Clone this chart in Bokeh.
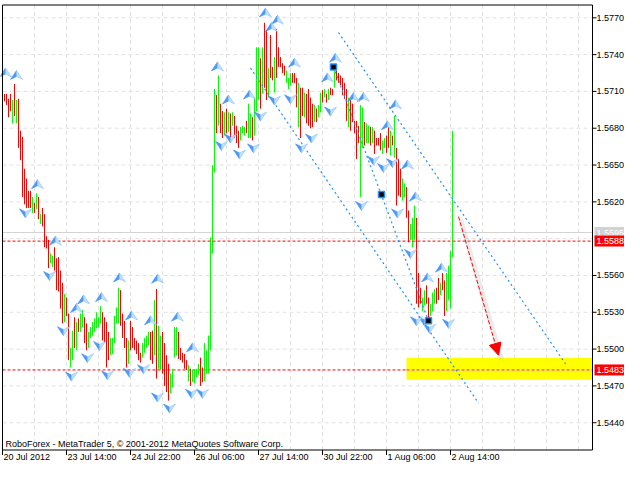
from bokeh.plotting import figure
from bokeh.models import Range1d, Arrow, NormalHead
from bokeh.core.properties import value
from bokeh.embed import file_html
from bokeh.resources import INLINE

# ---------------- data (H1 bars) ----------------
bar_high = [
    1.5708, 1.5708, 1.5704, 1.5708, 1.5703, 1.5716, 1.5703, 1.5704, 1.5678, 1.5673, 1.5647, 1.5639, 1.5629, 1.5629, 1.5624, 1.5619,
    1.5627, 1.5624, 1.5610, 1.5615, 1.5610, 1.5592, 1.5589, 1.5578, 1.5576, 1.5583, 1.5574, 1.5575, 1.5564, 1.5554, 1.5545, 1.5542,
    1.5529, 1.5501, 1.5515, 1.5526, 1.5522, 1.5525, 1.5529, 1.5532, 1.5526, 1.5521, 1.5514, 1.5518, 1.5522, 1.5525, 1.5530, 1.5526,
    1.5535, 1.5530, 1.5526, 1.5522, 1.5514, 1.5509, 1.5509, 1.5527, 1.5534, 1.5550, 1.5548, 1.5529, 1.5523, 1.5509, 1.5507, 1.5523,
    1.5518, 1.5509, 1.5507, 1.5505, 1.5497, 1.5505, 1.5509, 1.5511, 1.5514, 1.5514, 1.5515, 1.5540, 1.5549, 1.5519, 1.5511, 1.5514,
    1.5505, 1.5495, 1.5488, 1.5480, 1.5484, 1.5518, 1.5518, 1.5514, 1.5501, 1.5497, 1.5496, 1.5491, 1.5487, 1.5484, 1.5483, 1.5483,
    1.5484, 1.5488, 1.5493, 1.5485, 1.5505, 1.5499, 1.5511, 1.5591, 1.5650, 1.5712, 1.5707, 1.5723, 1.5700, 1.5694, 1.5693, 1.5696,
    1.5693, 1.5692, 1.5693, 1.5690, 1.5682, 1.5678, 1.5681, 1.5682, 1.5681, 1.5686, 1.5700, 1.5692, 1.5689, 1.5705, 1.5746, 1.5746,
    1.5737, 1.5746, 1.5766, 1.5760, 1.5729, 1.5756, 1.5730, 1.5738, 1.5761, 1.5746, 1.5738, 1.5733, 1.5731, 1.5727, 1.5721, 1.5725,
    1.5725, 1.5725, 1.5721, 1.5717, 1.5713, 1.5713, 1.5709, 1.5708, 1.5712, 1.5705, 1.5700, 1.5699, 1.5696, 1.5699, 1.5709, 1.5711,
    1.5712, 1.5708, 1.5712, 1.5713, 1.5712, 1.5727, 1.5727, 1.5725, 1.5723, 1.5721, 1.5717, 1.5712, 1.5705, 1.5703, 1.5700, 1.5686,
    1.5686, 1.5682, 1.5699, 1.5697, 1.5685, 1.5684, 1.5682, 1.5681, 1.5681, 1.5678, 1.5672, 1.5672, 1.5676, 1.5670, 1.5672, 1.5674,
    1.5684, 1.5678, 1.5674, 1.5690, 1.5664, 1.5655, 1.5647, 1.5639, 1.5635, 1.5632, 1.5613, 1.5602, 1.5607, 1.5617, 1.5607, 1.5562,
    1.5550, 1.5542, 1.5548, 1.5552, 1.5542, 1.5537, 1.5546, 1.5549, 1.5550, 1.5558, 1.5554, 1.5562, 1.5556, 1.5562, 1.5568, 1.5580,
    1.5678,
]
bar_low = [
    1.5702, 1.5699, 1.5689, 1.5694, 1.5684, 1.5690, 1.5684, 1.5664, 1.5654, 1.5624, 1.5618, 1.5615, 1.5615, 1.5615, 1.5611, 1.5611,
    1.5614, 1.5606, 1.5602, 1.5600, 1.5583, 1.5582, 1.5566, 1.5570, 1.5567, 1.5564, 1.5548, 1.5547, 1.5533, 1.5521, 1.5522, 1.5527,
    1.5491, 1.5485, 1.5491, 1.5501, 1.5499, 1.5514, 1.5514, 1.5518, 1.5505, 1.5499, 1.5501, 1.5509, 1.5511, 1.5514, 1.5517, 1.5518,
    1.5521, 1.5507, 1.5505, 1.5485, 1.5491, 1.5495, 1.5496, 1.5505, 1.5521, 1.5521, 1.5519, 1.5509, 1.5501, 1.5485, 1.5488, 1.5499,
    1.5501, 1.5499, 1.5496, 1.5491, 1.5489, 1.5493, 1.5497, 1.5501, 1.5503, 1.5491, 1.5488, 1.5495, 1.5476, 1.5484, 1.5483, 1.5480,
    1.5470, 1.5465, 1.5458, 1.5464, 1.5469, 1.5493, 1.5495, 1.5492, 1.5491, 1.5489, 1.5484, 1.5483, 1.5474, 1.5470, 1.5473, 1.5472,
    1.5477, 1.5479, 1.5470, 1.5473, 1.5474, 1.5480, 1.5480, 1.5499, 1.5578, 1.5644, 1.5676, 1.5682, 1.5676, 1.5672, 1.5674, 1.5676,
    1.5677, 1.5670, 1.5682, 1.5672, 1.5668, 1.5664, 1.5670, 1.5676, 1.5674, 1.5676, 1.5672, 1.5672, 1.5670, 1.5674, 1.5694, 1.5703,
    1.5696, 1.5708, 1.5713, 1.5703, 1.5705, 1.5721, 1.5719, 1.5709, 1.5721, 1.5730, 1.5730, 1.5725, 1.5723, 1.5717, 1.5712, 1.5715,
    1.5717, 1.5717, 1.5697, 1.5681, 1.5672, 1.5690, 1.5689, 1.5684, 1.5682, 1.5680, 1.5681, 1.5685, 1.5685, 1.5689, 1.5693, 1.5701,
    1.5705, 1.5701, 1.5703, 1.5707, 1.5707, 1.5713, 1.5719, 1.5717, 1.5715, 1.5707, 1.5704, 1.5686, 1.5681, 1.5678, 1.5685, 1.5676,
    1.5655, 1.5668, 1.5624, 1.5664, 1.5666, 1.5668, 1.5668, 1.5666, 1.5668, 1.5659, 1.5666, 1.5666, 1.5662, 1.5659, 1.5664, 1.5660,
    1.5664, 1.5658, 1.5666, 1.5656, 1.5617, 1.5625, 1.5624, 1.5621, 1.5624, 1.5607, 1.5587, 1.5589, 1.5583, 1.5589, 1.5537, 1.5534,
    1.5537, 1.5531, 1.5536, 1.5537, 1.5526, 1.5527, 1.5531, 1.5537, 1.5537, 1.5540, 1.5544, 1.5548, 1.5527, 1.5531, 1.5540, 1.5533,
    1.5575,
]
# 1 = bullish (green) bar, 0 = bearish (red) bar
bar_up = [
    0, 0, 0, 0, 1, 0, 1, 0, 0, 0, 0, 0, 0, 0, 1, 0,
    1, 0, 1, 0, 0, 0, 0, 1, 1, 0, 0, 0, 0, 0, 1, 0,
    0, 1, 1, 0, 1, 0, 1, 1, 0, 0, 1, 1, 1, 1, 1, 1,
    1, 0, 0, 0, 0, 1, 1, 1, 1, 1, 0, 0, 0, 0, 1, 0,
    0, 0, 0, 0, 0, 1, 1, 1, 1, 0, 0, 1, 0, 1, 1, 0,
    0, 0, 0, 1, 1, 1, 1, 0, 0, 0, 0, 0, 1, 0, 1, 1,
    1, 1, 0, 0, 1, 1, 1, 1, 1, 1, 0, 1, 0, 0, 1, 0,
    1, 0, 1, 0, 0, 0, 1, 1, 1, 0, 1, 1, 0, 1, 1, 1,
    0, 1, 0, 0, 1, 0, 0, 1, 0, 0, 0, 0, 0, 1, 1, 1,
    0, 0, 0, 1, 0, 0, 1, 0, 0, 0, 0, 1, 0, 1, 1, 0,
    1, 0, 1, 0, 0, 1, 0, 0, 0, 0, 0, 0, 1, 0, 0, 0,
    0, 0, 1, 1, 0, 1, 1, 0, 1, 0, 0, 0, 0, 1, 1, 0,
    0, 1, 0, 1, 0, 0, 0, 1, 1, 0, 0, 1, 1, 1, 0, 0,
    0, 1, 1, 0, 0, 1, 1, 1, 0, 0, 1, 0, 0, 1, 1, 1,
    1,
]
bar_index = list(range(len(bar_high)))

time_tick_bars = [-1, 31, 63, 95, 127, 159, 191, 223]
time_tick_labels = ["20 Jul 2012", "23 Jul 14:00", "24 Jul 22:00", "26 Jul 06:00",
                    "27 Jul 14:00", "30 Jul 22:00", "1 Aug 06:00", "2 Aug 14:00"]
time_grid_bars = [15 + 16 * k for k in range(18)]
price_ticks = [1.5440, 1.5470, 1.5500, 1.5530, 1.5560, 1.5620, 1.5650, 1.5680, 1.5710, 1.5740, 1.5770]
price_grid = [1.5440, 1.5470, 1.5500, 1.5530, 1.5560, 1.5590, 1.5620, 1.5650, 1.5680, 1.5710, 1.5740, 1.5770]

# Bill Williams fractal markers (bar position, marker price)
frac_up_bar = [0.5, 6, 16.5, 25.5, 36, 39.5, 48.5, 57.5, 63.5, 73, 76.5, 86.5, 94, 106.5, 112,
               122.5, 130.5, 133.5, 136.5, 145, 161.5, 165.5, 174.5, 179.5, 191.5, 195.5, 201.5, 205.5, 211.5, 218.5]
frac_up_price = [1.5725, 1.5723, 1.5634, 1.5588, 1.5533, 1.5540, 1.5542, 1.5558, 1.5527, 1.5523, 1.5557, 1.5526, 1.5501, 1.5730, 1.5703,
                 1.5707, 1.5774, 1.5762, 1.5768, 1.5733, 1.5721, 1.5737, 1.5705, 1.5705, 1.5682, 1.5699, 1.5650, 1.5624, 1.5558, 1.5566]
frac_dn_bar = [10.5, 22.5, 29.5, 33.5, 41.5, 47.5, 51.5, 62.5, 69.5, 76.5, 82.5, 93.5, 99, 108.5, 113, 117.5, 124.5,
               128, 135, 143, 148.5, 153.5, 163, 178.5, 184.5, 189.5, 194, 196.5, 203, 206, 210, 212.5, 222]
frac_dn_price = [1.5611, 1.5560, 1.5515, 1.5478, 1.5493, 1.5503, 1.5479, 1.5481, 1.5484, 1.5461, 1.5452, 1.5464, 1.5464, 1.5666, 1.5672, 1.5659, 1.5664,
                 1.5690, 1.5703, 1.5704, 1.5664, 1.5672, 1.5694, 1.5617, 1.5654, 1.5648, 1.5652, 1.5611, 1.5578, 1.5523, 1.5523, 1.5517, 1.5521]

bid_price = 1.5588
ask_price = 1.5595
target_price = 1.5483
zone_left_bar = 201
zone_top = 1.5493
zone_bottom = 1.5475

channel_upper_bars = [167, 280.5]
channel_upper_prices = [1.5758, 1.5488]
channel_mid_bars = [123, 237]
channel_mid_prices = [1.5729, 1.5456]
trend_bars = [164.5, 188.5, 212]
trend_prices = [1.5730, 1.5626, 1.5523]

forecast_start_bar, forecast_start_price = 227, 1.5608
forecast_end_bar, forecast_end_price = 247, 1.5495

copyright_text = "RoboForex - MetaTrader 5, \u00a9 2001-2012 MetaQuotes Software Corp."

# ---------------- geometry / style ----------------
W, H = 624, 463              # whole canvas is the frame; axes are drawn by hand
bx = 0.5                     # bars per pixel (2 px per bar)
py = 0.0000815               # price per pixel
X_START = -2.0
Y_TOP = 1.57841
XL, XR = -1, 294             # chart box (bar units)
YT, YB = Y_TOP - 4.5 * py, Y_TOP - 449.5 * py
FONT = value("Liberation Sans")
FSIZE = value("9px")
GRID = "#E2E2E2"

p = figure(width=W, height=H,
           x_range=Range1d(X_START, X_START + W * bx),
           y_range=Range1d(Y_TOP - H * py, Y_TOP),
           output_backend="svg", toolbar_location=None,
           x_axis_location=None, y_axis_location=None,
           min_border=0, min_border_left=0, min_border_right=0, min_border_top=0, min_border_bottom=0,
           background_fill_color="white", border_fill_color="white",
           outline_line_color=None)
p.grid.visible = False

# grid
p.segment(x0=time_grid_bars, y0=[YB] * len(time_grid_bars), x1=time_grid_bars, y1=[YT] * len(time_grid_bars),
          line_color=GRID, line_dash="4 3", line_width=1)
p.segment(x0=[XL] * len(price_grid), y0=price_grid, x1=[XR] * len(price_grid), y1=price_grid,
          line_color=GRID, line_dash="4 3", line_width=1)

# ask line, target level, yellow zone
p.segment(x0=[XL], y0=[ask_price], x1=[XR], y1=[ask_price], line_color="#D4D4D4", line_width=1)
p.segment(x0=[XL], y0=[target_price], x1=[zone_left_bar], y1=[target_price],
          line_color="#FF0000", line_dash="3 2", line_width=1)
p.quad(left=[zone_left_bar], right=[XR], bottom=[zone_bottom], top=[zone_top],
       fill_color="#FFFF00", line_color=None)
p.segment(x0=[zone_left_bar], y0=[target_price], x1=[XR], y1=[target_price],
          line_color="#FF00FF", line_dash="3 2", line_width=1)

# bars
colors = ["#00FF00" if u else "#FF0000" for u in bar_up]
p.segment(x0=bar_index, y0=bar_low, x1=bar_index, y1=bar_high, line_color=colors, line_width=1)

# bid line
p.segment(x0=[XL], y0=[bid_price], x1=[XR], y1=[bid_price],
          line_color="#FF0000", line_dash="3 2", line_width=1)

# channel / trend lines
for xs, ys in ((channel_upper_bars, channel_upper_prices),
               (channel_mid_bars, channel_mid_prices),
               ([trend_bars[0], trend_bars[-1]], [trend_prices[0], trend_prices[-1]])):
    p.line(xs, ys, line_color="#1E90FF", line_dash="2 3", line_width=1.2)


# fractal arrows (pixel-sized shapes)
def arrow_shapes(bars, prices, s):
    lx, ly, rx, ry = [], [], [], []
    for b, pr in zip(bars, prices):
        tip = (b, pr + s * 5 * py)
        lw = (b - 6 * bx, pr - s * 4 * py)
        rw = (b + 6 * bx, pr - s * 4 * py)
        notch = (b, pr - s * 1 * py)
        lx.append([tip[0], lw[0], notch[0]]); ly.append([tip[1], lw[1], notch[1]])
        rx.append([tip[0], notch[0], rw[0]]); ry.append([tip[1], notch[1], rw[1]])
    return lx, ly, rx, ry


for bars, prices, s in ((frac_up_bar, frac_up_price, 1), (frac_dn_bar, frac_dn_price, -1)):
    lx, ly, rx, ry = arrow_shapes(bars, prices, s)
    p.patches(lx, ly, fill_color="#4A9BFA", line_color="#3C8EF2", line_width=0.6)
    p.patches(rx, ry, fill_color="#C2E0FF", line_color="#8CC2F7", line_width=0.6)

# forecast arrow with soft shadow
p.line([forecast_start_bar + 2 * bx, forecast_end_bar + 3 * bx],
       [forecast_start_price - 3 * py, forecast_end_price - 4 * py],
       line_color="#B0B0B0", line_width=5, line_alpha=0.25)
p.add_layout(Arrow(x_start=forecast_start_bar, y_start=forecast_start_price,
                   x_end=forecast_end_bar, y_end=forecast_end_price,
                   line_color="#FF0000", line_dash="4 2", line_width=1,
                   end=NormalHead(size=12, fill_color="#FF0000", line_color="#FF0000")))

# trend line anchor squares
p.scatter(trend_bars, trend_prices, marker="square", size=6,
          fill_color="black", line_color="#1E90FF", line_width=1.5)

# chart border (top, left, right) and time axis line (bottom)
p.multi_line(xs=[[XL, XR], [XL, XL], [XR, XR], [XL, XR]],
             ys=[[YT, YT], [YB, YT], [YB, YT], [YB, YB]],
             line_color="black", line_width=1)

# time axis: ticks + left-aligned labels
p.segment(x0=time_tick_bars, y0=[YB] * len(time_tick_bars), x1=time_tick_bars,
          y1=[YB - 5 * py] * len(time_tick_bars), line_color="black", line_width=1)
p.text(x=time_tick_bars, y=[YB] * len(time_tick_bars), text=time_tick_labels,
       text_font=FONT, text_font_size=FSIZE, text_color="black",
       text_align="left", text_baseline="top", x_offset=1, y_offset=2)

# price axis: ticks + labels
p.segment(x0=[XR] * len(price_ticks), y0=price_ticks, x1=[XR + 4 * bx] * len(price_ticks), y1=price_ticks,
          line_color="black", line_width=1)
p.text(x=[XR] * len(price_ticks), y=price_ticks, text=[f"{v:.4f}" for v in price_ticks],
       text_font=FONT, text_font_size=FSIZE, text_color="black",
       text_align="left", text_baseline="middle", x_offset=4)

# price tags
tag_prices = [ask_price, bid_price, target_price]
tag_colors = ["#D2D2D2", "#FF0000", "#FF0000"]
for price, bg in zip(tag_prices, tag_colors):
    p.quad(left=[XR + 2 * bx], right=[XR + 32 * bx], bottom=[price - 5.5 * py], top=[price + 5.5 * py],
           fill_color=bg, line_color=None)
    p.text(x=[XR], y=[price], text=[f"{price:.4f}"], text_font=FONT, text_font_size=FSIZE,
           text_color="white", text_align="left", text_baseline="middle", x_offset=4)

# copyright
p.text(x=[XL], y=[YB], text=[copyright_text], text_font=FONT, text_font_size=FSIZE,
       text_color="black", text_align="left", text_baseline="bottom", x_offset=3, y_offset=-1)

open("out.html", "w").write(file_html(p, INLINE))
